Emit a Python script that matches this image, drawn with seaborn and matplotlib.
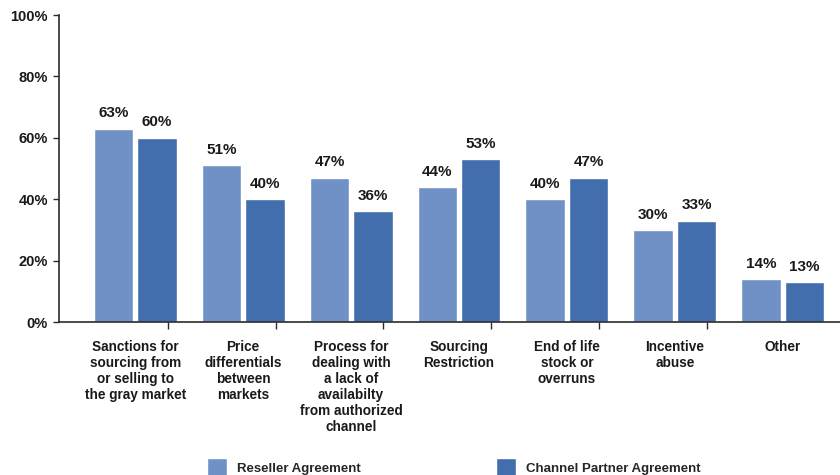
import matplotlib
matplotlib.use("Agg")
import matplotlib.pyplot as plt
import matplotlib.ticker as mtick
import pandas as pd
import seaborn as sns

# Survey data: share of respondents per policy topic
categories = [
    "Sanctions for\nsourcing from\nor selling to\nthe gray market",
    "Price\ndifferentials\nbetween\nmarkets",
    "Process for\ndealing with\na lack of\navailabilty\nfrom authorized\nchannel",
    "Sourcing\nRestriction",
    "End of life\nstock or\noverruns",
    "Incentive\nabuse",
    "Other",
]
series_names = ["Reseller Agreement", "Channel Partner Agreement"]
reseller = [63, 51, 47, 44, 40, 30, 14]
channel_partner = [60, 40, 36, 53, 47, 33, 13]
y_ticks = [0, 20, 40, 60, 80, 100]

colors = ["#6f91c6", "#426ead"]
axis_color = "#2b2b2b"

df = pd.DataFrame({
    "category": categories * 2,
    "series": [series_names[0]] * len(categories) + [series_names[1]] * len(categories),
    "value": reseller + channel_partner,
})

sns.set_style("white")
plt.rcParams["font.family"] = ["Liberation Sans", "DejaVu Sans"]
plt.rcParams["font.weight"] = "bold"

fig = plt.figure(figsize=(8.4, 4.75), dpi=100)
ax = fig.add_axes([59 / 840, 153 / 475, 781 / 840, 307 / 475])

sns.barplot(
    data=df, x="category", y="value", hue="series",
    palette=colors, saturation=1, width=0.8, gap=0.08,
    order=categories, hue_order=series_names, ax=ax, legend=True,
)

# value labels above each bar
for container in ax.containers:
    ax.bar_label(container, fmt="%d%%", padding=6, fontsize=11,
                 fontweight="bold", color="#1a1a1a")

ax.set_ylim(0, 100)
ax.set_xlim(-0.706, 6.53)
ax.set_yticks(y_ticks)
ax.yaxis.set_major_formatter(mtick.FuncFormatter(lambda v, _: f"{v:.0f}%"))
ax.set_xlabel("")
ax.set_ylabel("")

# category labels centred under groups, small tick marks offset inside the groups
ax.set_xticks(range(len(categories)))
ax.set_xticklabels(categories, fontsize=9.8, fontweight="bold",
                   color="#1a1a1a", linespacing=1.18, va="top")
ax.set_xticks([i + 0.3 for i in range(len(categories) - 1)], minor=True)
ax.tick_params(axis="x", which="major", length=0, pad=13)
ax.tick_params(axis="x", which="minor", length=5, width=1, color=axis_color,
               direction="out", bottom=True)
ax.tick_params(axis="y", length=4, width=1, color=axis_color, direction="out",
               pad=4, labelsize=10.5, labelcolor="#1a1a1a", left=True)
for lbl in ax.get_yticklabels():
    lbl.set_fontweight("bold")

sns.despine(ax=ax, top=True, right=True)
for side in ("left", "bottom"):
    ax.spines[side].set_color(axis_color)
    ax.spines[side].set_linewidth(1.2)
ax.spines["bottom"].set_zorder(5)

# legend along the bottom edge
handles, labels = ax.get_legend_handles_labels()
ax.legend_.remove()
fig.legend(
    handles, labels, ncol=2, loc="center left",
    bbox_to_anchor=(207 / 840, 7 / 475), frameon=False,
    prop={"size": 9.5, "weight": "bold"},
    handlelength=1.52, handleheight=2.0, handletextpad=0.72,
    columnspacing=10.3, borderpad=0, borderaxespad=0,
)

fig.savefig("out.png", dpi=100)
